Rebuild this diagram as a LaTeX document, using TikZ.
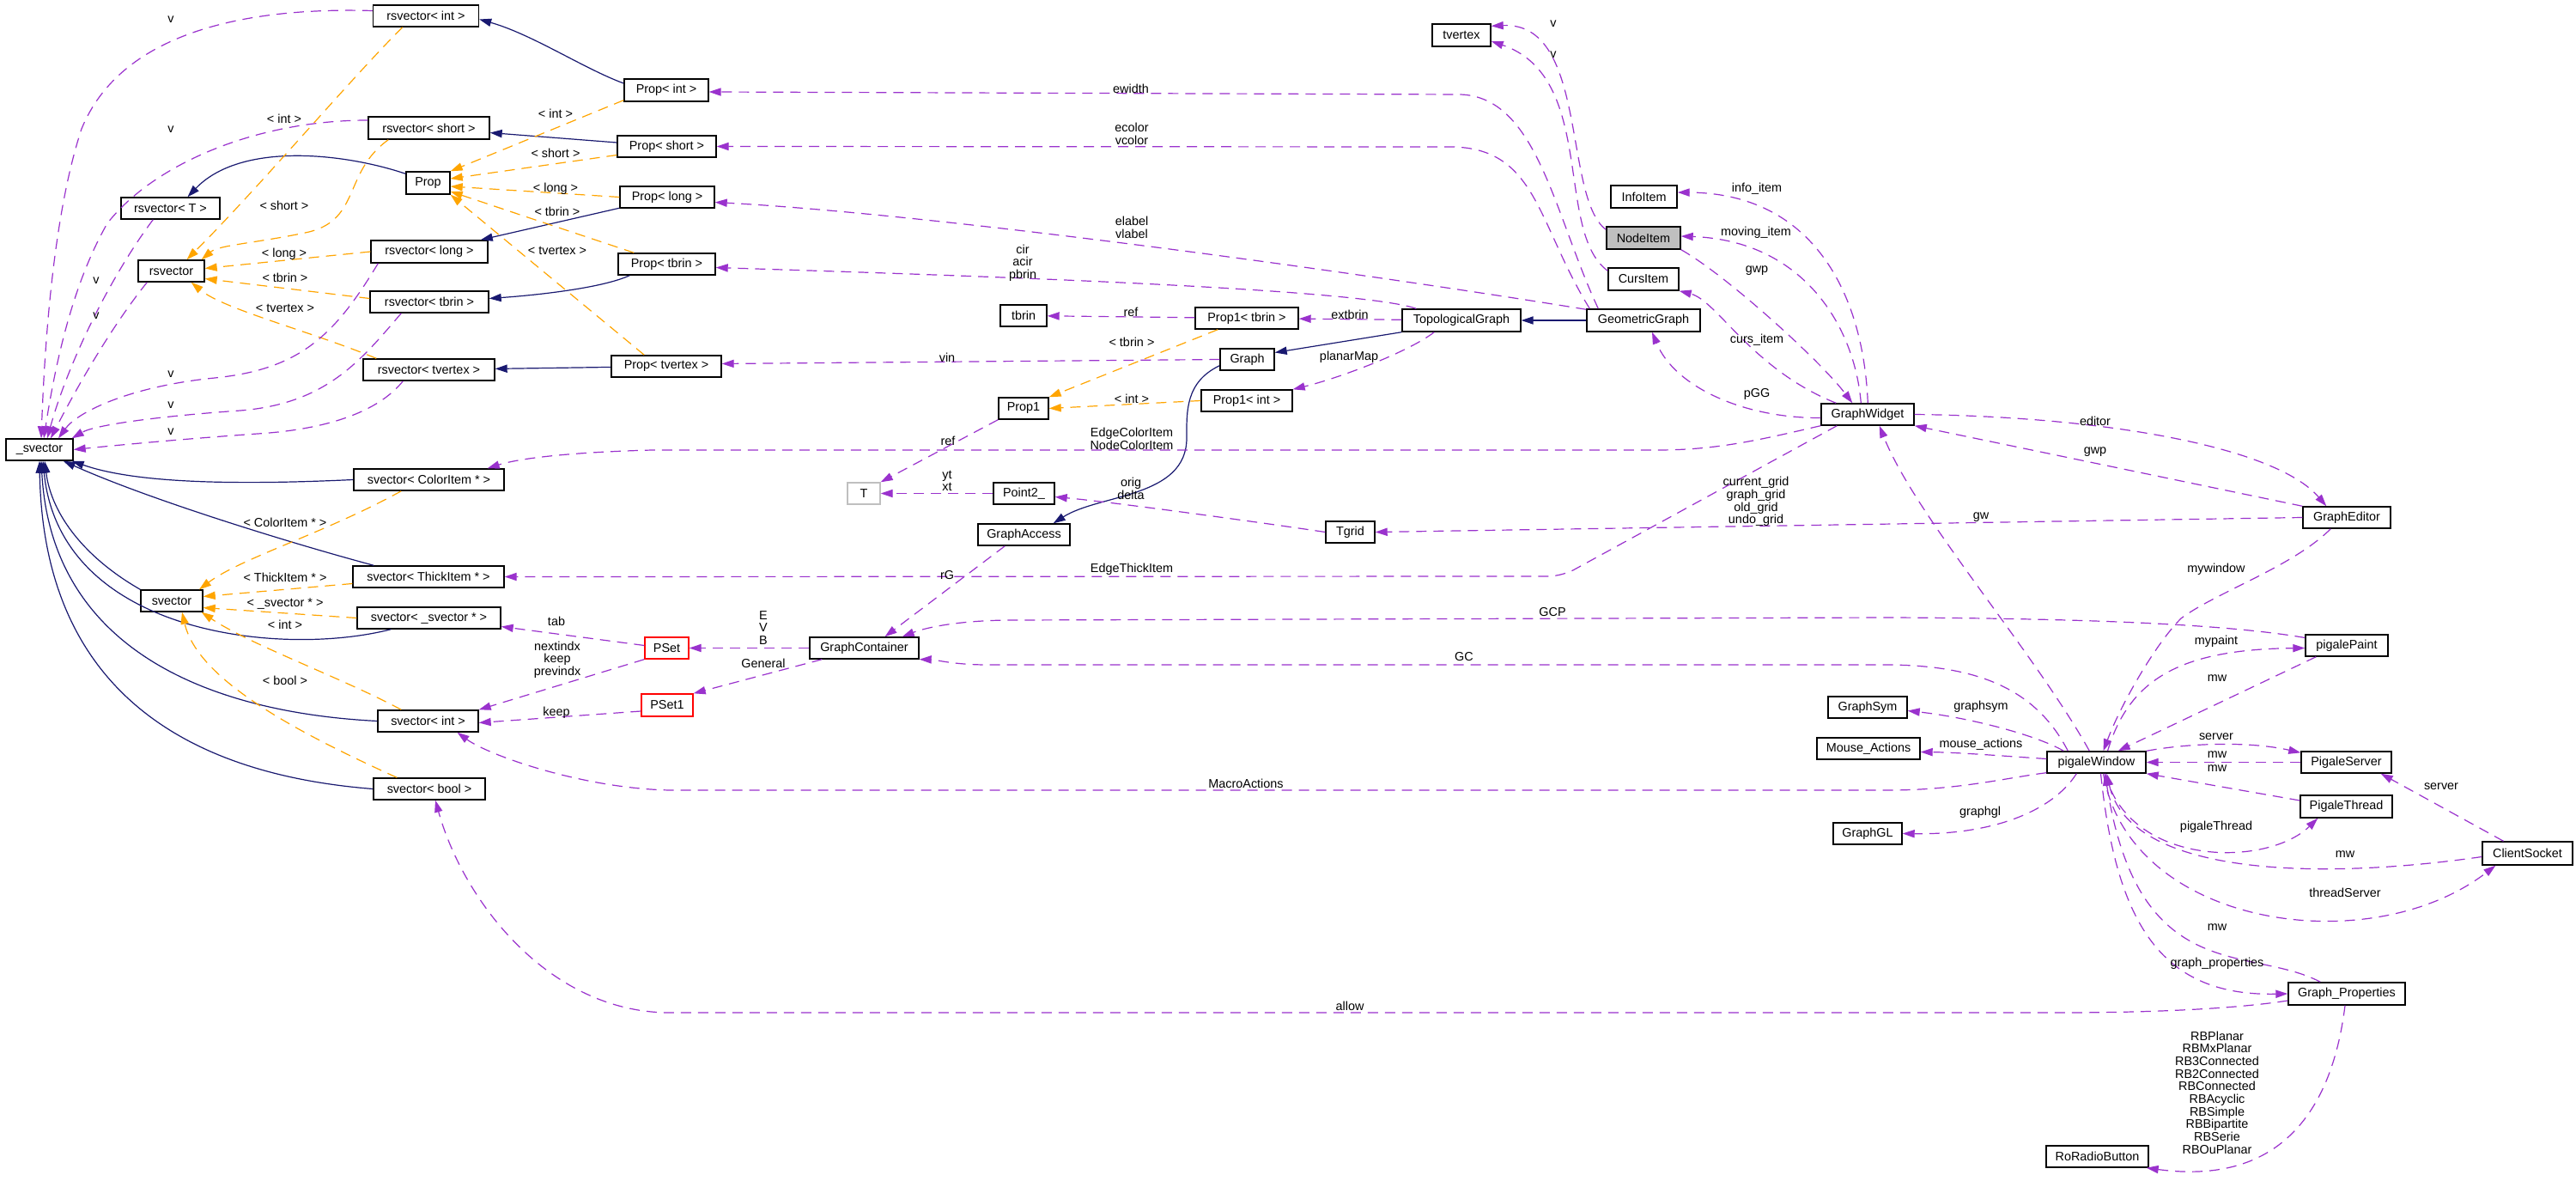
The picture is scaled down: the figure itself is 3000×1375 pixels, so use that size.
\documentclass[tikz,border=0pt]{standalone}
\usepackage{fontspec}
\setmainfont{Liberation Sans}
\usetikzlibrary{arrows.meta,calc}
\definecolor{inhc}{HTML}{191970}
\definecolor{usec}{HTML}{9A32CD}
\definecolor{tplc}{HTML}{FFA500}
\definecolor{grayc}{HTML}{BFBFBF}
\newcommand\dfont{\fontsize{7.2}{7.35}\selectfont}
\begin{document}
\begin{tikzpicture}[x=0.5pt,y=-0.5pt,
  cls/.style={draw=black,line width=0.7pt,fill=white,inner sep=0pt,font=\dfont},
  bx/.style 2 args={minimum width=#1,minimum height=#2},
  lbl/.style={inner sep=0pt,font=\dfont,align=center},
  tip/.style={-{Triangle[length=7pt,width=4.6pt]}},
  inh/.style={draw=inhc,line width=0.6pt,tip},
  use/.style={draw=usec,line width=0.6pt,dash pattern=on 6pt off 4pt,tip},
  tpl/.style={draw=tplc,line width=0.6pt,dash pattern=on 6pt off 4pt,tip}]
\useasboundingbox[fill=white] (0,0) rectangle (3000,1375);
% ---------- nodes ----------
\node[cls,bx={61.5pt}{12.5pt}] (rsvec_int) at (496,18.5) {rsvector< int >};
\node[cls,bx={70.5pt}{13pt}] (rsvec_short) at (499.5,149) {rsvector< short >};
\node[cls,bx={25.5pt}{13pt}] (prop) at (498.5,213) {Prop};
\node[cls,bx={57.5pt}{12.5pt}] (rsvec_T) at (198.5,242.5) {rsvector< T >};
\node[cls,bx={38.5pt}{12.5pt}] (rsvec) at (199.5,315.5) {rsvector};
\node[cls,bx={68pt}{13pt}] (rsvec_long) at (500,293) {rsvector< long >};
\node[cls,bx={69pt}{12.5pt}] (rsvec_tbrin) at (500,351.5) {rsvector< tbrin >};
\node[cls,bx={76.5pt}{12.5pt}] (rsvec_tvertex) at (499.5,430.5) {rsvector< tvertex >};
\node[cls,bx={49pt}{13pt}] (prop_int) at (776,105) {Prop< int >};
\node[cls,bx={57.5pt}{12.5pt}] (prop_short) at (776.5,170.5) {Prop< short >};
\node[cls,bx={55pt}{12.5pt}] (prop_long) at (777,229.5) {Prop< long >};
\node[cls,bx={56.5pt}{12.5pt}] (prop_tbrin) at (776.5,307.5) {Prop< tbrin >};
\node[cls,bx={64pt}{12.5pt}] (prop_tvertex) at (776,426.5) {Prop< tvertex >};
\node[cls,bx={27pt}{12.5pt}] (tbrin) at (1192,367.5) {tbrin};
\node[cls,bx={60pt}{12.5pt}] (prop1_tbrin) at (1452,370.5) {Prop1< tbrin >};
\node[cls,bx={31.5pt}{12.5pt}] (graph) at (1452.5,418.5) {Graph};
\node[cls,bx={34pt}{13pt}] (tvertex) at (1702,41) {tvertex};
\node[cls,bx={38.5pt}{13pt}] (infoitem) at (1914.5,229) {InfoItem};
\node[cls,bx={43pt}{13pt},fill=grayc] (nodeitem) at (1914,277) {NodeItem};
\node[cls,bx={41pt}{13pt}] (cursitem) at (1914,325) {CursItem};
\node[cls,bx={69pt}{13pt}] (topo) at (1702,373) {TopologicalGraph};
\node[cls,bx={66pt}{13pt}] (geo) at (1914,373) {GeometricGraph};
\node[cls,bx={29pt}{12.5pt}] (prop1) at (1192,475.5) {Prop1};
\node[cls,bx={53pt}{12.5pt}] (prop1_int) at (1452,466.5) {Prop1< int >};
\node[cls,bx={19pt}{12.5pt},draw=grayc] (T) at (1006,574.5) {T};
\node[cls,bx={35.5pt}{12.5pt}] (point2) at (1192.5,574.5) {Point2\_};
\node[cls,bx={53.5pt}{12.5pt}] (gaccess) at (1192.5,622.5) {GraphAccess};
\node[cls,bx={25.5pt}{12.5pt},draw=red] (pset) at (776.5,754.5) {PSet};
\node[cls,bx={63.5pt}{12.5pt}] (gcont) at (1006.5,754.5) {GraphContainer};
\node[cls,bx={30pt}{13pt},draw=red] (pset1) at (777,821) {PSet1};
\node[cls,bx={39pt}{12.5pt}] (svec_) at (46,523.5) {\_svector};
\node[cls,bx={87.5pt}{12.5pt}] (sv_color) at (499.5,558.5) {svector< ColorItem * >};
\node[cls,bx={88pt}{12.5pt}] (sv_thick) at (499,671.5) {svector< ThickItem * >};
\node[cls,bx={36pt}{12.5pt}] (svector) at (200,699.5) {svector};
\node[cls,bx={83.5pt}{12.5pt}] (sv_sv) at (499.5,719.5) {svector< \_svector * >};
\node[cls,bx={58.5pt}{12.5pt}] (sv_int) at (498.5,839.5) {svector< int >};
\node[cls,bx={65pt}{12.5pt}] (sv_bool) at (500,918.5) {svector< bool >};
\node[cls,bx={54pt}{12.5pt}] (gwidget) at (2175,482.5) {GraphWidget};
\node[cls,bx={28.5pt}{12.5pt}] (tgrid) at (1572.5,619.5) {Tgrid};
\node[cls,bx={46pt}{12.5pt}] (graphsym) at (2175,823.5) {GraphSym};
\node[cls,bx={60pt}{12.5pt}] (mouse) at (2176,871.5) {Mouse\_Actions};
\node[cls,bx={40pt}{12.5pt}] (graphgl) at (2175,970.5) {GraphGL};
\node[cls,bx={51pt}{12.5pt}] (geditor) at (2733,602.5) {GraphEditor};
\node[cls,bx={48pt}{12.5pt}] (ppaint) at (2733,751.5) {pigalePaint};
\node[cls,bx={57.5pt}{12.5pt}] (pwin) at (2441.5,887.5) {pigaleWindow};
\node[cls,bx={52.5pt}{12.5pt}] (pserver) at (2732.5,887.5) {PigaleServer};
\node[cls,bx={53.5pt}{13pt}] (pthread) at (2732.5,939) {PigaleThread};
\node[cls,bx={52.5pt}{13.5pt}] (csock) at (2943.5,993.5) {ClientSocket};
\node[cls,bx={68pt}{13pt}] (gprops) at (2733,1157) {Graph\_Properties};
\node[cls,bx={59.5pt}{12.5pt}] (rradio) at (2442.5,1346.5) {RoRadioButton};
% ---------- inheritance ----------
\draw[inh] ($(prop_int.west)+(0,-8)$) .. controls (680,80) and (620,40) .. ($(rsvec_int.east)+(0,4)$);
\draw[inh] (prop_short) -- (rsvec_short);
\draw[inh] ($(prop.north west)+(0,3)$) .. controls (400,178) and (280,165) .. ($(rsvec_T.north)+(20,0)$);
\draw[inh] (prop_long) -- (rsvec_long);
\draw[inh] ($(prop_tbrin.south west)+(14,0)$) .. controls (700,336) and (620,344) .. ($(rsvec_tbrin.east)+(0,-4)$);
\draw[inh] (prop_tvertex) -- (rsvec_tvertex);
\draw[inh] (sv_color.west) .. controls (250,566) and (150,560) .. ($(svec_.south east)+(-2,0)$);
\draw[inh] ($(sv_thick.north west)+(25,0)$) .. controls (330,630) and (170,580) .. ($(svec_.south east)+(-12,0)$);
\draw[inh] (svector.north west) .. controls (100,650) and (60,600) .. ($(svec_.south)+(6,0)$);
\draw[inh] ($(sv_sv.south west)+(40,0)$) .. controls (330,765) and (70,740) .. ($(svec_.south)+(4,0)$);
\draw[inh] (sv_int.west) .. controls (250,830) and (60,760) .. ($(svec_.south)+(2,0)$);
\draw[inh] (sv_bool.west) .. controls (200,900) and (50,790) .. (svec_.south);
\draw[inh] (geo) -- (topo);
\draw[inh] (topo.south west) -- ($(graph.east)+(0,-8)$);
\draw[inh] ($(graph.south west)+(0,-6)$) .. controls (1380,445) and (1382,480) .. (1382,510) .. controls (1382,580) and (1280,575) .. ($(gaccess.north east)+(-20,0)$);
% ---------- templates ----------
\draw[tpl] ($(rsvec_int.south west)+(35,0)$) .. controls (410,90) and (300,220) .. ($(rsvec.north)+(18,0)$);
\draw[tpl] ($(rsvec_short.south west)+(24,0)$) .. controls (400,200) and (420,255) .. (360,270) .. controls (300,283) and (255,285) .. ($(rsvec.north east)+(-4,0)$);
\draw[tpl] (rsvec_long.west) -- ($(rsvec.east)+(0,-3)$);
\draw[tpl] ($(rsvec_tbrin.west)+(0,-4)$) -- ($(rsvec.east)+(0,9)$);
\draw[tpl] ($(rsvec_tvertex.north west)+(16,0)$) .. controls (360,385) and (260,360) .. ($(rsvec.south east)+(-16,0)$);
\draw[tpl] ($(prop_int.south west)+(0,-2)$) -- (prop.north east);
\draw[tpl] ($(prop_short.west)+(0,10)$) -- ($(prop.east)+(0,-5)$);
\draw[tpl] (prop_long.west) -- ($(prop.east)+(0,4)$);
\draw[tpl] ($(prop_tbrin.north west)+(19,0)$) -- ($(prop.east)+(0,10)$);
\draw[tpl] ($(prop_tvertex.north west)+(39,0)$) -- (prop.south east);
\draw[tpl] ($(sv_color.south west)+(56,0)$) .. controls (380,620) and (280,650) .. ($(svector.north)+(32,0)$);
\draw[tpl] ($(sv_thick.west)+(0,8)$) -- ($(svector.east)+(0,-5)$);
\draw[tpl] (sv_sv.west) -- ($(svector.east)+(0,8)$);
\draw[tpl] ($(sv_int.north west)+(28,0)$) .. controls (400,790) and (290,750) .. ($(svector.south east)+(-2,0)$);
\draw[tpl] ($(sv_bool.north west)+(28,0)$) .. controls (340,850) and (230,790) .. ($(svector.south)+(12,0)$);
\draw[tpl] ($(prop1_tbrin.south west)+(27,0)$) -- (prop1.north east);
\draw[tpl] (prop1_int.west) -- (prop1.east);
% ---------- usage ----------
\draw[use] ($(rsvec_int.west)+(0,-6)$) .. controls (280,8) and (140,40) .. (95,150) .. controls (62,250) and (52,400) .. ($(svec_.north)+(2,0)$);
\draw[use] ($(rsvec_short.west)+(0,-9)$) .. controls (300,140) and (180,190) .. (125,260) .. controls (85,330) and (65,420) .. ($(svec_.north)+(5,0)$);
\draw[use] ($(rsvec_T.south west)+(38,0)$) .. controls (130,320) and (80,420) .. ($(svec_.north)+(9,0)$);
\draw[use] ($(rsvec.south west)+(11,0)$) .. controls (130,380) and (90,450) .. ($(svec_.north)+(13,0)$);
\draw[use] ($(rsvec_long.south west)+(9,0)$) .. controls (390,390) and (350,430) .. (250,440) .. controls (150,450) and (90,480) .. ($(svec_.north)+(22,0)$);
\draw[use] ($(rsvec_tbrin.south west)+(37,0)$) .. controls (420,420) and (380,470) .. (280,478) .. controls (180,485) and (110,495) .. ($(svec_.north east)+(-2,0)$);
\draw[use] ($(rsvec_tvertex.south west)+(47,0)$) .. controls (440,480) and (380,500) .. (300,505) .. controls (200,512) and (120,520) .. (svec_.east);
\draw[use] ($(geo.north west)+(14,0)$) .. controls (1810,250) and (1790,112) .. (1700,110) -- ($(prop_int.east)+(0,2)$);
\draw[use] ($(geo.north west)+(4,0)$) .. controls (1790,260) and (1790,172) .. (1690,171) -- (prop_short.east);
\draw[use] ($(geo.north west)+(0,1)$) .. controls (1600,320) and (1100,250) .. ($(prop_long.east)+(0,6)$);
\draw[use] ($(topo.north west)+(17,0)$) .. controls (1580,335) and (1100,320) .. ($(prop_tbrin.east)+(0,4)$);
\draw[use] (prop1_tbrin) -- (tbrin);
\draw[use] (topo) -- (prop1_tbrin);
\draw[use] (graph.west) -- ($(prop_tvertex.east)+(0,-3)$);
\draw[use] ($(topo.south west)+(38,0)$) .. controls (1640,410) and (1560,440) .. (prop1_int.north east);
\draw[use] (prop1.south west) -- (T.north east);
\draw[use] (point2) -- (T);
\draw[use] (tgrid.west) .. controls (1480,610) and (1300,585) .. ($(point2.east)+(0,4)$);
\draw[use] ($(gaccess.south west)+(32,0)$) -- ($(gcont.north)+(24,0)$);
\draw[use] (gcont) -- (pset);
\draw[use] ($(gcont.south west)+(15,0)$) -- (pset1.north east);
\draw[use] ($(pset.west)+(0,-3)$) -- ($(sv_sv.east)+(0,10)$);
\draw[use] (pset.south west) -- (sv_int.north east);
\draw[use] ($(pset1.west)+(0,7)$) -- ($(sv_int.east)+(0,2)$);
\draw[use] (gwidget.south west) .. controls (2050,512) and (2000,524) .. (1930,524) -- (760,524) .. controls (680,526) and (610,532) .. ($(sv_color.north east)+(-20,0)$);
\draw[use,rounded corners=8pt] ($(gwidget.south west)+(19,0)$) -- (1819,671) -- (sv_thick.east);
\draw[use] (geditor.west) -- (tgrid.east);
\draw[use] ($(pwin.north west)+(50,0)$) .. controls (2370,760) and (2230,600) .. ($(gwidget.south east)+(-41,0)$);
\draw[use] ($(gwidget.west)+(0,4)$) .. controls (2030,487) and (1950,450) .. ($(geo.south)+(10,0)$);
\draw[use] ($(gwidget.north west)+(18,0)$) .. controls (2040,430) and (2000,350) .. (cursitem.south east);
\draw[use] (nodeitem.south east) .. controls (2010,320) and (2120,420) .. ($(gwidget.north west)+(37,0)$);
\draw[use] ($(gwidget.north west)+(47,0)$) .. controls (2160,380) and (2100,280) .. ($(nodeitem.east)+(0,-2)$);
\draw[use] ($(gwidget.north west)+(55,0)$) .. controls (2170,340) and (2110,225) .. ($(infoitem.east)+(0,-5)$);
\draw[use] ($(nodeitem.north west)+(0,4)$) .. controls (1820,230) and (1850,25) .. ($(tvertex.north east)+(0,3)$);
\draw[use] ($(cursitem.north west)+(0,4)$) .. controls (1810,270) and (1860,90) .. ($(tvertex.east)+(0,7)$);
\draw[use] (gwidget.east) .. controls (2450,485) and (2650,520) .. ($(geditor.north west)+(28,0)$);
\draw[use] (geditor.north west) -- (gwidget.south east);
\draw[use] ($(geditor.south west)+(33,0)$) .. controls (2670,660) and (2580,690) .. (2540,720) .. controls (2510,750) and (2470,820) .. ($(pwin.north)+(8,0)$);
\draw[use] ($(pwin.north west)+(25,0)$) .. controls (2370,800) and (2300,775) .. (2200,774) -- (1150,774) .. controls (1110,774) and (1090,768) .. (gcont.south east);
\draw[use] ($(ppaint.west)+(0,-9)$) .. controls (2600,728) and (2450,720) .. (2200,719) -- (1180,722) .. controls (1120,722) and (1080,730) .. ($(gcont.north east)+(-20,0)$);
\draw[use] ($(pwin.north)+(13,0)$) .. controls (2480,790) and (2540,756) .. ($(ppaint.west)+(0,3)$);
\draw[use] ($(ppaint.south west)+(13,0)$) -- ($(pwin.north east)+(-33,0)$);
\draw[use] (pwin.north east) .. controls (2550,865) and (2620,863) .. ($(pserver.north west)+(0,2)$);
\draw[use] (pserver) -- (pwin);
\draw[use] ($(pthread.west)+(0,-7)$) -- (pwin.south east);
\draw[use] ($(pwin.south)+(10,0)$) .. controls (2480,1010) and (2640,1010) .. ($(pthread.south west)+(21,0)$);
\draw[use] ($(csock.north)+(-28,0)$) -- ($(pserver.south east)+(-13,0)$);
\draw[use] ($(csock.west)+(0,4)$) .. controls (2700,1025) and (2480,1020) .. ($(pwin.south)+(12,0)$);
\draw[use] ($(pwin.south)+(8,0)$) .. controls (2480,1080) and (2760,1120) .. ($(csock.south west)+(16,0)$);
\draw[use] ($(gprops.north west)+(38,0)$) .. controls (2620,1100) and (2490,1150) .. ($(pwin.south)+(10,0)$);
\draw[use] ($(pwin.south)+(5,0)$) .. controls (2465,1080) and (2520,1160) .. (gprops.west);
\draw[use] ($(gprops.south)+(-2,0)$) .. controls (2715,1300) and (2650,1380) .. ($(rradio.south east)+(-3,0)$);
\draw[use] ($(pwin.north west)+(20,0)$) .. controls (2370,855) and (2290,835) .. ($(graphsym.east)+(0,4)$);
\draw[use] ($(pwin.west)+(0,-4)$) .. controls (2330,880) and (2280,876) .. ($(mouse.east)+(0,4)$);
\draw[use] ($(pwin.south west)+(35,0)$) .. controls (2390,945) and (2320,972) .. (graphgl.east);
\draw[use] ($(pwin.south west)+(0,-1)$) .. controls (2340,905) and (2280,920) .. (2200,920) -- (780,920) .. controls (680,918) and (570,880) .. ($(sv_int.south)+(34,0)$);
\draw[use] ($(gprops.west)+(0,8)$) .. controls (2600,1175) and (2500,1179) .. (2400,1179) -- (780,1179) .. controls (640,1179) and (540,1050) .. ($(sv_bool.south)+(7,0)$);
% ---------- labels ----------
\node[lbl] (l1) at (199,23) {v};
\node[lbl] (l2) at (199,151) {v};
\node[lbl] (l3) at (112,327) {v};
\node[lbl] (l4) at (112,368) {v};
\node[lbl] (l5) at (199,436) {v};
\node[lbl] (l6) at (199,472) {v};
\node[lbl] (l7) at (199,503) {v};
\node[lbl] (l8) at (331,138) {< int >};
\node[lbl] (l9) at (331,239) {< short >};
\node[lbl] (l10) at (331,296) {< long >};
\node[lbl] (l11) at (332,323) {< tbrin >};
\node[lbl] (l12) at (332,359) {< tvertex >};
\node[lbl] (l13) at (647,132) {< int >};
\node[lbl] (l14) at (647,178) {< short >};
\node[lbl] (l15) at (647,220) {< long >};
\node[lbl] (l16) at (649,246) {< tbrin >};
\node[lbl] (l17) at (649,292) {< tvertex >};
\node[lbl] (l18) at (332,608) {< ColorItem * >};
\node[lbl] (l19) at (332,672) {< ThickItem * >};
\node[lbl] (l20) at (332,703) {< \_svector * >};
\node[lbl] (l21) at (332,727) {< int >};
\node[lbl] (l22) at (332,792) {< bool >};
\node[lbl] (l23) at (1317,103) {ewidth};
\node[lbl] (l24) at (1318,156) {ecolor\\vcolor};
\node[lbl] (l25) at (1318,265) {elabel\\vlabel};
\node[lbl] (l26) at (1191,306) {cir\\acir\\pbrin};
\node[lbl] (l27) at (1317,363) {ref};
\node[lbl] (l28) at (1318,398) {< tbrin >};
\node[lbl] (l29) at (1103,416) {vin};
\node[lbl] (l30) at (1318,464) {< int >};
\node[lbl] (l31) at (1318,511) {EdgeColorItem\\NodeColorItem};
\node[lbl] (l32) at (1104,513) {ref};
\node[lbl] (l33) at (1103,560) {yt\\xt};
\node[lbl] (l34) at (1317,569) {orig\\delta};
\node[lbl] (l35) at (1318,663) {EdgeThickItem};
\node[lbl] (l36) at (1103,670) {rG};
\node[lbl] (l37) at (889,731) {E\\V\\B};
\node[lbl] (l38) at (889,772) {General};
\node[lbl] (l39) at (648,723) {tab};
\node[lbl] (l40) at (649,768) {nextindx\\keep\\previndx};
\node[lbl] (l41) at (648,830) {keep};
\node[lbl] (l42) at (1451,912) {MacroActions};
\node[lbl] (l43) at (1572,1171) {allow};
\node[lbl] (l44) at (1808,713) {GCP};
\node[lbl] (l45) at (1705,765) {GC};
\node[lbl] (l46) at (2045,584) {current\_grid\\graph\_grid\\old\_grid\\undo\_grid};
\node[lbl] (l47) at (1572,366) {extbrin};
\node[lbl] (l48) at (1571,416) {planarMap};
\node[lbl] (l49) at (2046,459) {pGG};
\node[lbl] (l50) at (2046,396) {curs\_item};
\node[lbl] (l51) at (2046,315) {gwp};
\node[lbl] (l52) at (2045,271) {moving\_item};
\node[lbl] (l53) at (2046,220) {info\_item};
\node[lbl] (l54) at (1809,28) {v};
\node[lbl] (l55) at (1809,64) {v};
\node[lbl] (l56) at (2440,490) {editor};
\node[lbl] (l57) at (2440,526) {gwp};
\node[lbl] (l58) at (2307,602) {gw};
\node[lbl] (l59) at (2581,663) {mywindow};
\node[lbl] (l60) at (2581,747) {mypaint};
\node[lbl] (l61) at (2582,790) {mw};
\node[lbl] (l62) at (2307,823) {graphsym};
\node[lbl] (l63) at (2581,858) {server};
\node[lbl] (l64) at (2307,867) {mouse\_actions};
\node[lbl] (l65) at (2582,879) {mw};
\node[lbl] (l66) at (2582,895) {mw};
\node[lbl] (l67) at (2843,916) {server};
\node[lbl] (l68) at (2306,946) {graphgl};
\node[lbl] (l69) at (2581,963) {pigaleThread};
\node[lbl] (l70) at (2731,995) {mw};
\node[lbl] (l71) at (2731,1039) {threadServer};
\node[lbl] (l72) at (2582,1080) {mw};
\node[lbl] (l73) at (2582,1122) {graph\_properties};
\node[lbl] (l74) at (2582,1272) {RBPlanar\\RBMxPlanar\\RB3Connected\\RB2Connected\\RBConnected\\RBAcyclic\\RBSimple\\RBBipartite\\RBSerie\\RBOuPlanar};
\end{tikzpicture}
\end{document}
